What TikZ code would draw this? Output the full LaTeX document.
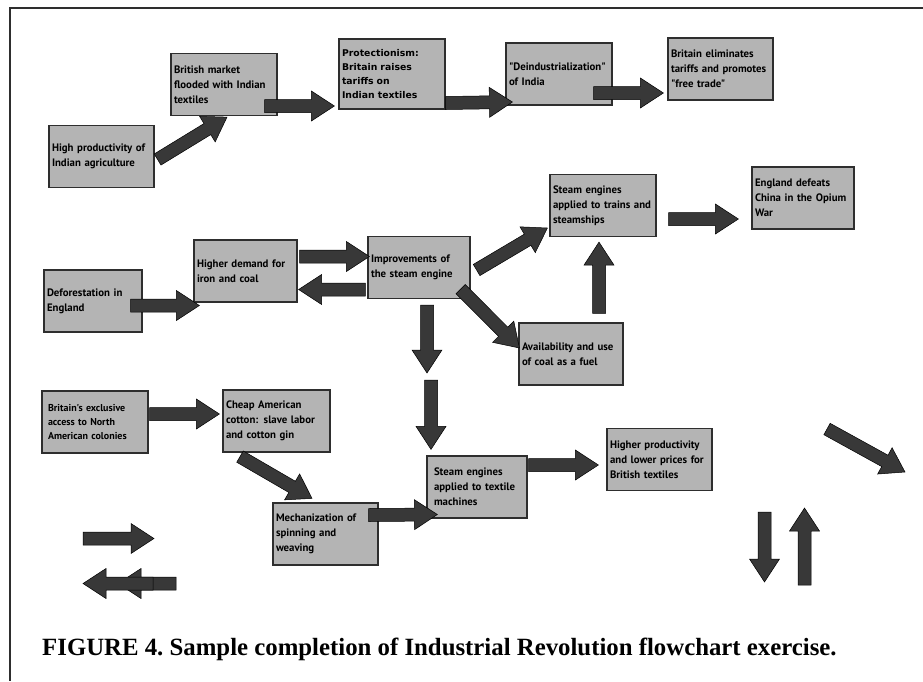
\documentclass[tikz,border=0pt]{standalone}
\usepackage{fontspec}
\setmainfont{Liberation Serif}
\newfontfamily\boxfont{PT Sans}
\newfontfamily\widefont{DejaVu Sans}
\usepackage{tikz}
\usetikzlibrary{calc}
\definecolor{boxgray}{HTML}{B4B4B4}
\definecolor{arrowgray}{HTML}{383838}
\definecolor{framegray}{HTML}{2E2E2E}

\begin{document}
\begin{tikzpicture}[
  x=1pt, y=-1pt,
  box/.style={draw=framegray, fill=boxgray, line width=1.2pt, align=left,
              minimum height=62pt, inner xsep=3pt, inner ysep=0pt,
              font=\boxfont\bfseries\fontsize{10.8}{15}\selectfont, text width=#1},
  box/.default=100pt,
  barrow/.style={fill=arrowgray, draw=black, line width=0.5pt, line join=miter,
    to path={
      ($(\tikztostart)!6.5pt!90:(\tikztotarget)$)
      -- ($(\tikztotarget)!23pt!(\tikztostart)!6.5pt!90:(\tikztotarget)$)
      -- ($(\tikztotarget)!23pt!(\tikztostart)!15pt!90:(\tikztotarget)$)
      -- (\tikztotarget)
      -- ($(\tikztotarget)!23pt!(\tikztostart)!15pt!-90:(\tikztotarget)$)
      -- ($(\tikztotarget)!23pt!(\tikztostart)!6.5pt!-90:(\tikztotarget)$)
      -- ($(\tikztostart)!6.5pt!-90:(\tikztotarget)$) -- cycle}}
]
\useasboundingbox (0,0) rectangle (923,681);
\draw[framegray, line width=2pt] (923,8) -- (10,8) -- (10,681);

% India row
\node[box=99pt] (agri) at (101.5,156.5) {High productivity of\\Indian agriculture};
\node[box] (flood) at (224,84.5) {British market\\flooded with Indian\\textiles};
\node[box, minimum height=70pt, font=\widefont\bfseries\fontsize{9.3}{13.7}\selectfont] (prot) at (392,74) {Protectionism:\\Britain raises\\tariffs on\\Indian textiles};
\node[box] (deind) at (559,74) {"Deindustrialization"\\of India};
\node[box=99pt] (free) at (720.5,69) {Britain eliminates\\tariffs and promotes\\"free trade"};

% steam row
\node[box=92pt] (defor) at (93,301) {Deforestation in\\England};
\node[box=97pt] (demand) at (245.5,271) {Higher demand for\\iron and coal};
\node[box=96pt] (steam) at (419,267.5) {Improvements of\\the steam engine};
\node[box] (trains) at (603,205.5) {Steam engines\\applied to trains and\\steamships};
\node[box=96pt] (opium) at (803,198) {England defeats\\China in the Opium\\War};
\node[box=98pt] (coal) at (571,354) {Availability and use\\of coal as a fuel};

% cotton row
\node[box, font=\boxfont\bfseries\fontsize{10}{13.7}\selectfont, inner xsep=6pt, text width=94pt] (access) at (95,422) {Britain's exclusive\\access to North\\American colonies};
\node[box=101pt] (cotton) at (276.5,421) {Cheap American\\cotton: slave labor\\and cotton gin};
\node[box=99pt] (mech) at (325.5,534) {Mechanization of\\spinning and\\weaving};
\node[box, inner xsep=7pt, text width=86pt] (textile) at (477,487) {Steam engines\\applied to textile\\machines};
\node[box=99pt] (prices) at (659.5,459.5) {Higher productivity\\and lower prices for\\British textiles};

\coordinate (gap) at (429,376.5);

\draw[barrow] ([shift={(3,3)}]agri.east) to ([shift={(3,1)}]flood.south);
\draw[barrow] ([shift={(-13,21.5)}]flood.east) to ([shift={(-4,32)}]prot.west);
\draw[barrow] ([shift={(0,29)}]prot.east) to ([shift={(7,28)}]deind.west);
\draw[barrow] ([shift={(-19,19)}]deind.east) to ([shift={(-4,24)}]free.west);
\draw[barrow] ([shift={(-12,4.5)}]defor.east) to ([shift={(6,34.5)}]demand.west);
\draw[barrow] ([shift={(2,-14.5)}]demand.east) to ([shift={(2,-11)}]steam.west);
\draw[barrow] ([shift={(-2,22)}]steam.west) to ([shift={(1,18.5)}]demand.east);
\draw[barrow] ([shift={(8,6)}]steam.south) to ([shift={(-2,-3.5)}]gap);
\draw[barrow] ([shift={(2,3.5)}]gap) to ([shift={(-46,-6)}]textile.north);
\draw[barrow] ([shift={(6,2.5)}]steam.east) to ([shift={(-2,22.5)}]trains.west);
\draw[barrow] ([shift={(-10,-10)}]steam.south east) to ([shift={(1,-6)}]coal.west);
\draw[barrow] ([shift={(28,-9)}]coal.north) to ([shift={(-4,5)}]trains.south);
\draw[barrow] ([shift={(12,13.5)}]trains.east) to ([shift={(-13,21)}]opium.west);
\draw[barrow] ([shift={(1,-8)}]access.east) to ([shift={(-3,-7)}]cotton.west);
\draw[barrow] ([shift={(-36.5,4)}]cotton.south) to ([shift={(-13.5,-4)}]mech.north);
\draw[barrow] ([shift={(-10,-19)}]mech.east) to ([shift={(11,27.5)}]textile.west);
\draw[barrow] ([shift={(1,-22)}]textile.east) to ([shift={(-8,5.5)}]prices.west);

% loose arrows
\coordinate (k1) at (83,538.5);   \coordinate (k2) at (154,538.5);
\coordinate (k3) at (176,583.5);  \coordinate (k4) at (118,583.5);
\coordinate (k5) at (153,583.5);  \coordinate (k6) at (83,583.5);
\coordinate (k7) at (827,429);    \coordinate (k8) at (905,472);
\coordinate (k9) at (764.5,512);  \coordinate (k10) at (764.5,582);
\coordinate (k11) at (804.5,585); \coordinate (k12) at (804.5,508);
\draw[barrow] (k1) to (k2);
\draw[barrow] (k3) to (k4);
\draw[barrow] (k5) to (k6);
\draw[barrow] (k7) to (k8);
\draw[barrow] (k9) to (k10);
\draw[barrow] (k11) to (k12);

\node[anchor=base west, inner sep=0pt, font=\bfseries\fontsize{24.8}{28}\selectfont\frenchspacing] (caption) at (42,655)
  {FIGURE 4. Sample completion of Industrial Revolution flowchart exercise.};
\end{tikzpicture}
\end{document}
